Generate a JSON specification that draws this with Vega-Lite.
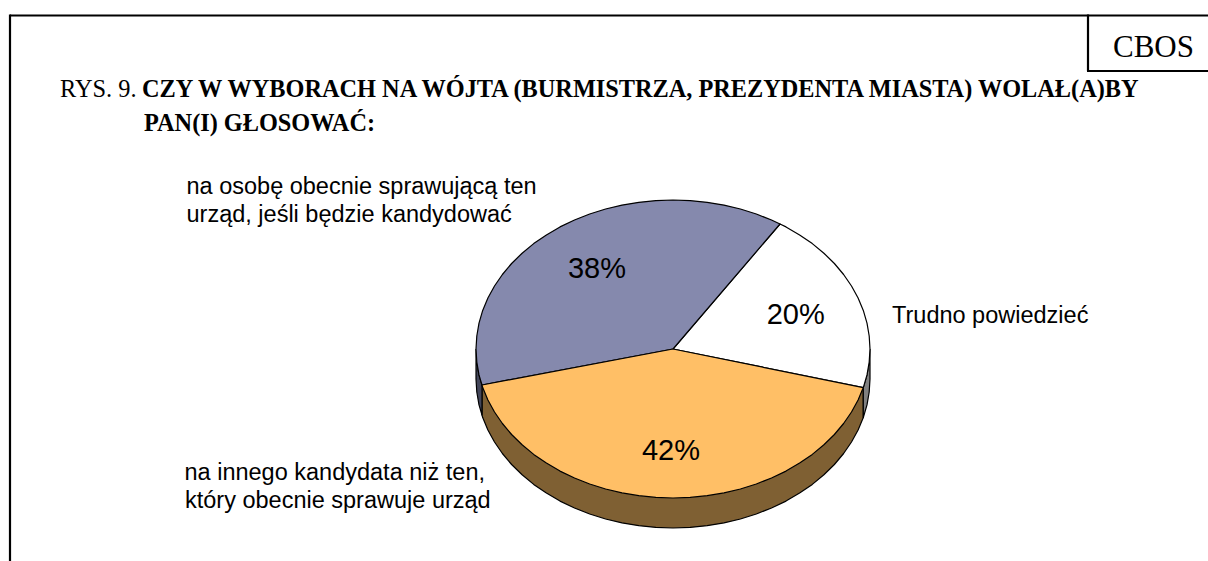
{"$schema":"https://vega.github.io/schema/vega-lite/v6.json","width":1208,"height":561,"padding":0,"autosize":{"type":"none"},"background":"white","view":{"stroke":null},"config":{"style":{"cell":{"stroke":null}}},
"datasets":{
"pie":[
{"part":"brown","n":1,"x":482,"y":385},{"part":"brown","n":2,"x":482,"y":415},{"part":"brown","n":3,"x":482.7,"y":417.6},{"part":"brown","n":4,"x":487.9,"y":430},{"part":"brown","n":5,"x":494.5,"y":442},{"part":"brown","n":6,"x":502.4,"y":453.5},{"part":"brown","n":7,"x":511.6,"y":464.5},{"part":"brown","n":8,"x":522.1,"y":474.8},{"part":"brown","n":9,"x":533.7,"y":484.4},{"part":"brown","n":10,"x":546.4,"y":493.1},{"part":"brown","n":11,"x":560,"y":501.1},{"part":"brown","n":12,"x":574.5,"y":508},{"part":"brown","n":13,"x":589.7,"y":514},{"part":"brown","n":14,"x":605.6,"y":519},{"part":"brown","n":15,"x":622,"y":522.9},{"part":"brown","n":16,"x":638.8,"y":525.7},{"part":"brown","n":17,"x":655.8,"y":527.4},{"part":"brown","n":18,"x":673,"y":528},{"part":"brown","n":19,"x":690.2,"y":527.4},{"part":"brown","n":20,"x":707.2,"y":525.7},{"part":"brown","n":21,"x":724,"y":522.9},{"part":"brown","n":22,"x":740.4,"y":519},{"part":"brown","n":23,"x":756.3,"y":514},{"part":"brown","n":24,"x":771.5,"y":508},{"part":"brown","n":25,"x":786,"y":501.1},{"part":"brown","n":26,"x":799.6,"y":493.1},{"part":"brown","n":27,"x":812.3,"y":484.4},{"part":"brown","n":28,"x":823.9,"y":474.8},{"part":"brown","n":29,"x":834.4,"y":464.5},{"part":"brown","n":30,"x":843.6,"y":453.5},{"part":"brown","n":31,"x":851.5,"y":442},{"part":"brown","n":32,"x":858.1,"y":430},{"part":"brown","n":33,"x":863.3,"y":417.6},{"part":"brown","n":34,"x":863.3,"y":387.6},{"part":"brown","n":35,"x":482,"y":385},
{"part":"navy","n":1,"x":476,"y":349},{"part":"navy","n":2,"x":476,"y":379},{"part":"navy","n":3,"x":476.8,"y":392},{"part":"navy","n":4,"x":479,"y":404.9},{"part":"navy","n":5,"x":482,"y":415},{"part":"navy","n":6,"x":482,"y":385},{"part":"navy","n":7,"x":479,"y":374.9},{"part":"navy","n":8,"x":476.8,"y":362},{"part":"navy","n":9,"x":476,"y":349},
{"part":"grey","n":1,"x":870,"y":349},{"part":"grey","n":2,"x":870,"y":379},{"part":"grey","n":3,"x":869.2,"y":392},{"part":"grey","n":4,"x":867,"y":404.9},{"part":"grey","n":5,"x":863.3,"y":417.6},{"part":"grey","n":6,"x":863.3,"y":387.6},{"part":"grey","n":7,"x":867,"y":374.9},{"part":"grey","n":8,"x":869.2,"y":362},{"part":"grey","n":9,"x":870,"y":349},
{"part":"white","n":1,"x":673,"y":349},{"part":"white","n":2,"x":863.3,"y":387.6},{"part":"white","n":3,"x":867,"y":374.9},{"part":"white","n":4,"x":869.2,"y":362},{"part":"white","n":5,"x":870,"y":349},{"part":"white","n":6,"x":869.2,"y":336},{"part":"white","n":7,"x":867,"y":323.1},{"part":"white","n":8,"x":863.3,"y":310.4},{"part":"white","n":9,"x":858.1,"y":298},{"part":"white","n":10,"x":851.5,"y":286},{"part":"white","n":11,"x":843.6,"y":274.5},{"part":"white","n":12,"x":834.4,"y":263.5},{"part":"white","n":13,"x":823.9,"y":253.2},{"part":"white","n":14,"x":812.3,"y":243.6},{"part":"white","n":15,"x":799.6,"y":234.9},{"part":"white","n":16,"x":786,"y":226.9},{"part":"white","n":17,"x":780,"y":224},{"part":"white","n":18,"x":673,"y":349},
{"part":"blue","n":1,"x":673,"y":349},{"part":"blue","n":2,"x":780,"y":224},{"part":"blue","n":3,"x":771.5,"y":220},{"part":"blue","n":4,"x":756.3,"y":214},{"part":"blue","n":5,"x":740.4,"y":209},{"part":"blue","n":6,"x":724,"y":205.1},{"part":"blue","n":7,"x":707.2,"y":202.3},{"part":"blue","n":8,"x":690.2,"y":200.6},{"part":"blue","n":9,"x":673,"y":200},{"part":"blue","n":10,"x":655.8,"y":200.6},{"part":"blue","n":11,"x":638.8,"y":202.3},{"part":"blue","n":12,"x":622,"y":205.1},{"part":"blue","n":13,"x":605.6,"y":209},{"part":"blue","n":14,"x":589.7,"y":214},{"part":"blue","n":15,"x":574.5,"y":220},{"part":"blue","n":16,"x":560,"y":226.9},{"part":"blue","n":17,"x":546.4,"y":234.9},{"part":"blue","n":18,"x":533.7,"y":243.6},{"part":"blue","n":19,"x":522.1,"y":253.2},{"part":"blue","n":20,"x":511.6,"y":263.5},{"part":"blue","n":21,"x":502.4,"y":274.5},{"part":"blue","n":22,"x":494.5,"y":286},{"part":"blue","n":23,"x":487.9,"y":298},{"part":"blue","n":24,"x":482.7,"y":310.4},{"part":"blue","n":25,"x":479,"y":323.1},{"part":"blue","n":26,"x":476.8,"y":336},{"part":"blue","n":27,"x":476,"y":349},{"part":"blue","n":28,"x":476.8,"y":362},{"part":"blue","n":29,"x":479,"y":374.9},{"part":"blue","n":30,"x":482,"y":385},{"part":"blue","n":31,"x":673,"y":349},
{"part":"orange","n":1,"x":673,"y":349},{"part":"orange","n":2,"x":482,"y":385},{"part":"orange","n":3,"x":482.7,"y":387.6},{"part":"orange","n":4,"x":487.9,"y":400},{"part":"orange","n":5,"x":494.5,"y":412},{"part":"orange","n":6,"x":502.4,"y":423.5},{"part":"orange","n":7,"x":511.6,"y":434.5},{"part":"orange","n":8,"x":522.1,"y":444.8},{"part":"orange","n":9,"x":533.7,"y":454.4},{"part":"orange","n":10,"x":546.4,"y":463.1},{"part":"orange","n":11,"x":560,"y":471.1},{"part":"orange","n":12,"x":574.5,"y":478},{"part":"orange","n":13,"x":589.7,"y":484},{"part":"orange","n":14,"x":605.6,"y":489},{"part":"orange","n":15,"x":622,"y":492.9},{"part":"orange","n":16,"x":638.8,"y":495.7},{"part":"orange","n":17,"x":655.8,"y":497.4},{"part":"orange","n":18,"x":673,"y":498},{"part":"orange","n":19,"x":690.2,"y":497.4},{"part":"orange","n":20,"x":707.2,"y":495.7},{"part":"orange","n":21,"x":724,"y":492.9},{"part":"orange","n":22,"x":740.4,"y":489},{"part":"orange","n":23,"x":756.3,"y":484},{"part":"orange","n":24,"x":771.5,"y":478},{"part":"orange","n":25,"x":786,"y":471.1},{"part":"orange","n":26,"x":799.6,"y":463.1},{"part":"orange","n":27,"x":812.3,"y":454.4},{"part":"orange","n":28,"x":823.9,"y":444.8},{"part":"orange","n":29,"x":834.4,"y":434.5},{"part":"orange","n":30,"x":843.6,"y":423.5},{"part":"orange","n":31,"x":851.5,"y":412},{"part":"orange","n":32,"x":858.1,"y":400},{"part":"orange","n":33,"x":863.3,"y":387.6},{"part":"orange","n":34,"x":673,"y":349}
],
"frame":[{"x":10,"x2":1208,"y":15.5,"y2":15.5},{"x":10,"x2":10,"y":14.5,"y2":561},{"x":1088,"x2":1088,"y":14.5,"y2":71},{"x":1087,"x2":1208,"y":71,"y2":71}],
"labels":[{"x":186.5,"y":193.5,"t":"na osobę obecnie sprawującą ten"},{"x":186.5,"y":222,"t":"urząd, jeśli będzie kandydować"},{"x":892,"y":323,"t":"Trudno powiedzieć"},{"x":184.5,"y":480,"t":"na innego kandydata niż ten,"},{"x":185,"y":508,"t":"który obecnie sprawuje urząd"}],
"pct":[{"x":597,"y":278,"t":"38%","share":38},{"x":795.7,"y":324,"t":"20%","share":20},{"x":671,"y":460,"t":"42%","share":42}],
"head":[{"x":60,"y":97,"t":"RYS. 9."}],
"bold":[{"x":142,"y":97,"t":"CZY W WYBORACH NA WÓJTA (BURMISTRZA, PREZYDENTA MIASTA) WOLAŁ(A)BY"},{"x":144,"y":131,"t":"PAN(I) GŁOSOWAĆ:"}],
"logo":[{"x":1153.5,"y":57,"t":"CBOS"}]
},
"encoding":{"x":{"field":"x","type":"quantitative","scale":{"domain":[0,1208],"nice":false,"zero":false},"axis":null},"y":{"field":"y","type":"quantitative","scale":{"domain":[561,0],"nice":false,"zero":false},"axis":null}},
"layer":[
{"data":{"name":"pie"},"mark":{"type":"line","stroke":"black","strokeWidth":1.2,"strokeJoin":"round","clip":false},"encoding":{"order":{"field":"n","type":"quantitative"},"detail":{"field":"part"},"fill":{"field":"part","type":"nominal","legend":null,"scale":{"domain":["brown","navy","grey","white","blue","orange"],"range":["#7F6033","#43465A","#808080","#FFFFFF","#8589AD","#FFBF66"]}}}},
{"data":{"name":"frame"},"mark":{"type":"rule","stroke":"black","strokeWidth":2.2},"encoding":{"x2":{"field":"x2"},"y2":{"field":"y2"}}},
{"data":{"name":"labels"},"mark":{"type":"text","align":"left","baseline":"alphabetic","font":"Liberation Sans","fontSize":23.5,"color":"black"},"encoding":{"text":{"field":"t"}}},
{"data":{"name":"pct"},"mark":{"type":"text","align":"center","baseline":"alphabetic","font":"Liberation Sans","fontSize":29,"color":"black"},"encoding":{"text":{"field":"t"}}},
{"data":{"name":"head"},"mark":{"type":"text","align":"left","baseline":"alphabetic","font":"Liberation Serif","fontSize":24.4,"color":"black"},"encoding":{"text":{"field":"t"}}},
{"data":{"name":"bold"},"mark":{"type":"text","align":"left","baseline":"alphabetic","font":"Liberation Serif","fontSize":24.3,"fontWeight":"bold","color":"black"},"encoding":{"text":{"field":"t"}}},
{"data":{"name":"logo"},"mark":{"type":"text","align":"center","baseline":"alphabetic","font":"Liberation Serif","fontSize":31,"color":"black"},"encoding":{"text":{"field":"t"}}}
]}
